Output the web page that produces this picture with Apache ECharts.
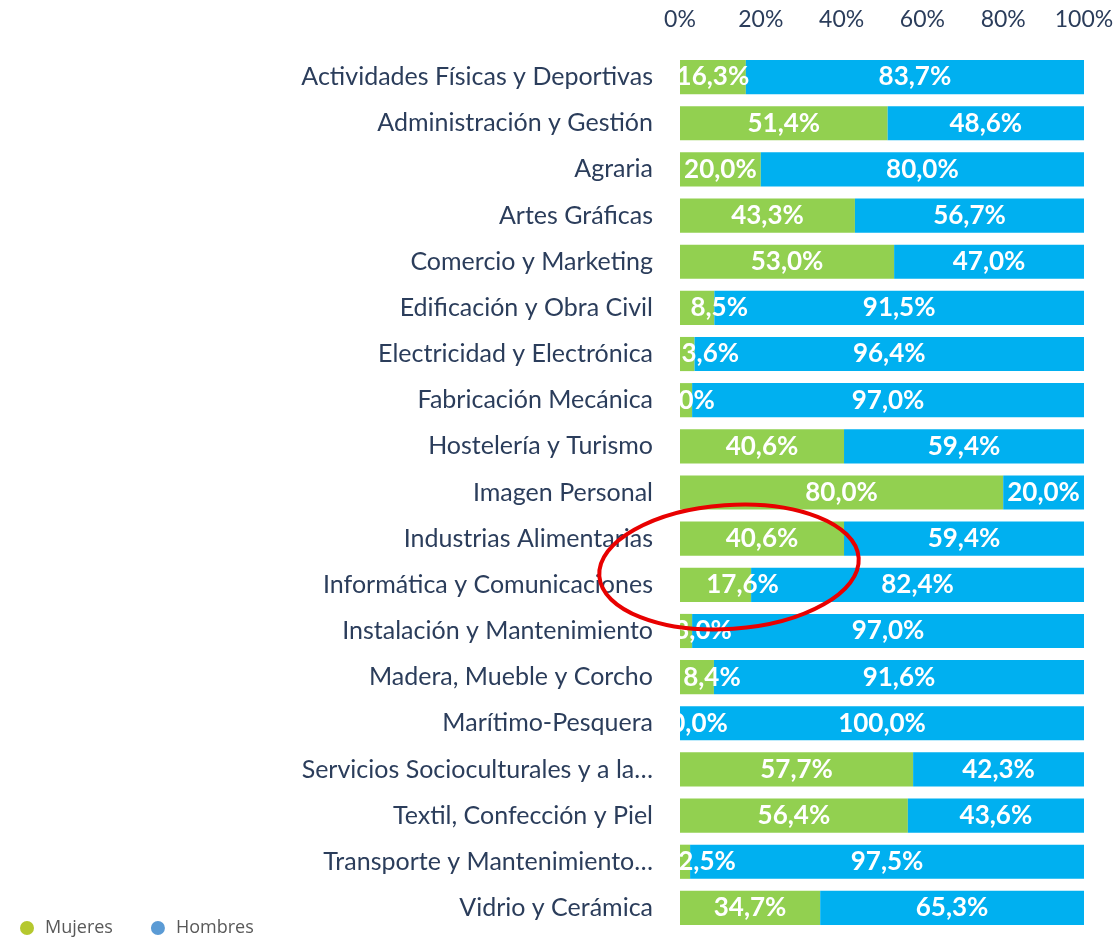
<!DOCTYPE html>
<html>
<head>
<meta charset="utf-8">
<script src="https://cdn.jsdelivr.net/npm/echarts@6/dist/echarts.min.js"></script>
<style>
  html, body { margin: 0; padding: 0; background: #fff; }
  #chart { width: 1118px; height: 939px; }
</style>
</head>
<body>
<div id="chart"></div>
<script>
const categories = [
  "Actividades Físicas y Deportivas",
  "Administración y Gestión",
  "Agraria",
  "Artes Gráficas",
  "Comercio y Marketing",
  "Edificación y Obra Civil",
  "Electricidad y Electrónica",
  "Fabricación Mecánica",
  "Hostelería y Turismo",
  "Imagen Personal",
  "Industrias Alimentarias",
  "Informática y Comunicaciones",
  "Instalación y Mantenimiento",
  "Madera, Mueble y Corcho",
  "Marítimo-Pesquera",
  "Servicios Socioculturales y a la…",
  "Textil, Confección y Piel",
  "Transporte y Mantenimiento…",
  "Vidrio y Cerámica"
];
const mujeres = [16.3, 51.4, 20.0, 43.3, 53.0, 8.5, 3.6, 3.0, 40.6, 80.0, 40.6, 17.6, 3.0, 8.4, 0.0, 57.7, 56.4, 2.5, 34.7];
const hombres = [83.7, 48.6, 80.0, 56.7, 47.0, 91.5, 96.4, 97.0, 59.4, 20.0, 59.4, 82.4, 97.0, 91.6, 100.0, 42.3, 43.6, 97.5, 65.3];
const xTicks = [0, 20, 40, 60, 80, 100];
// hand-nudged green labels in the original (px to the right)
const mujeresLabelNudge = [0, 0, 0, 0, 0, 22, 23, 0, 0, 0, 0, 27, 17, 15, 19, 0, 0, 22, 0];

const textFont = "Lato";
const pct = (p) => p.value.toFixed(1).replace(".", ",") + "%";

const valueLabel = {
  show: true,
  position: "inside",
  color: "#fff",
  fontFamily: textFont,
  fontWeight: "bold",
  fontSize: 26,
  formatter: pct
};

const chart = echarts.init(document.getElementById("chart"));
chart.setOption({
  animation: false,
  grid: { left: 680, right: 34, top: 54, bottom: 8, containLabel: false },
  legend: {
    left: 15,
    bottom: -3,
    icon: "circle",
    itemWidth: 14,
    itemHeight: 14,
    itemGap: 38,
    textStyle: {
      color: "#595959",
      fontSize: 18,
      fontFamily: "Open Sans",
      padding: [0, 0, 0, 6]
    },
    data: [
      { name: "Mujeres", itemStyle: { color: "#b5c82e" } },
      { name: "Hombres", itemStyle: { color: "#5b9bd5" } }
    ]
  },
  xAxis: {
    type: "value",
    position: "top",
    min: 0,
    max: 100,
    interval: 20,
    axisLine: { show: false },
    axisTick: { show: false },
    splitLine: { show: false },
    axisLabel: {
      margin: 23,
      color: "#2b3d5b",
      fontFamily: textFont,
      fontSize: 23,
      formatter: (v) => (xTicks.includes(v) ? v + "%" : "")
    }
  },
  yAxis: {
    type: "category",
    inverse: true,
    z: 10,
    data: categories,
    axisLine: { show: false },
    axisTick: { show: false },
    axisLabel: {
      margin: 27,
      color: "#2b3d5b",
      fontFamily: textFont,
      fontSize: 25
    }
  },
  series: [
    {
      name: "Mujeres",
      type: "bar",
      stack: "total",
      barCategoryGap: "26%",
      itemStyle: { color: "#92d050" },
      label: valueLabel,
      data: mujeres.map((v, i) => ({
        value: v,
        label: { offset: [mujeresLabelNudge[i], 0] }
      }))
    },
    {
      name: "Hombres",
      type: "bar",
      stack: "total",
      barCategoryGap: "26%",
      itemStyle: { color: "#00b0f0" },
      label: valueLabel,
      data: hombres
    }
  ],
  graphic: [
    // hide label parts that spill left of the plot
    {
      type: "rect",
      z: 5,
      shape: { x: 640, y: 50, width: 40, height: 870 },
      style: { fill: "#fff" }
    },
    {
      type: "ellipse",
      z: 20,
      x: 729,
      y: 567,
      rotation: 0.07,
      shape: { cx: 0, cy: 0, rx: 130, ry: 62 },
      style: { fill: null, stroke: "#e80000", lineWidth: 4 }
    }
  ]
});
</script>
</body>
</html>
